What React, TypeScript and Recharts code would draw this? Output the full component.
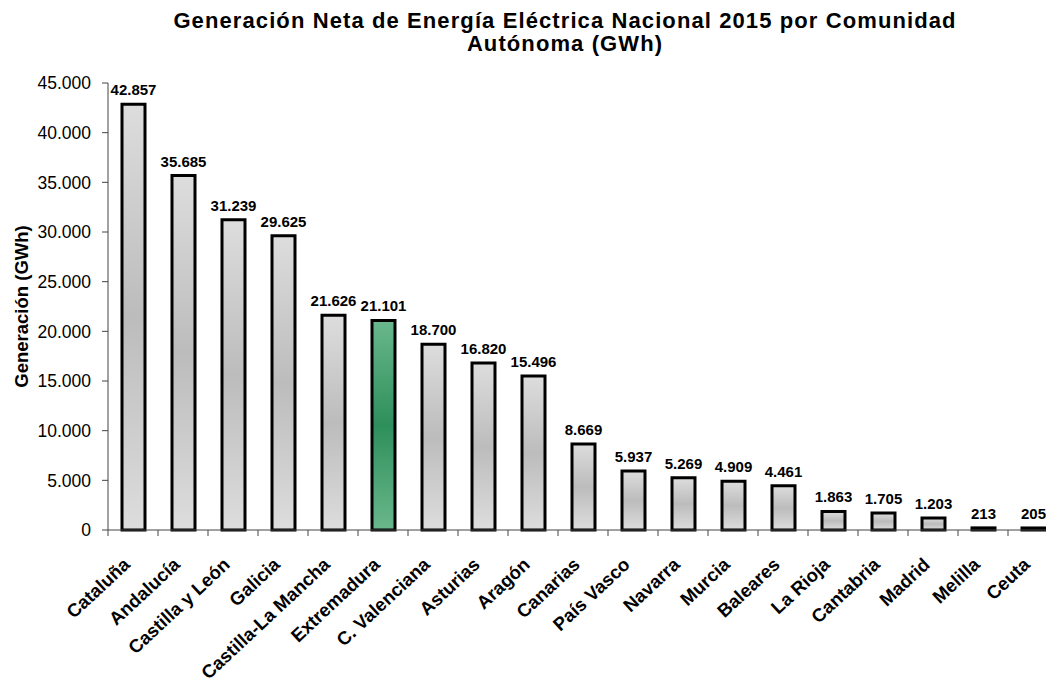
import { Bar, BarChart, Cell, LabelList, XAxis, YAxis } from "recharts";

const categories = [
  "Cataluña",
  "Andalucía",
  "Castilla y León",
  "Galicia",
  "Castilla-La Mancha",
  "Extremadura",
  "C. Valenciana",
  "Asturias",
  "Aragón",
  "Canarias",
  "País Vasco",
  "Navarra",
  "Murcia",
  "Baleares",
  "La Rioja",
  "Cantabria",
  "Madrid",
  "Melilla",
  "Ceuta",
];

const generation = [
  42857, 35685, 31239, 29625, 21626, 21101, 18700, 16820, 15496, 8669, 5937,
  5269, 4909, 4461, 1863, 1705, 1203, 213, 205,
];

const yTicks = [0, 5000, 10000, 15000, 20000, 25000, 30000, 35000, 40000, 45000];

const highlighted = "Extremadura";

const FONT = '"Liberation Sans", Arial, sans-serif';

// Spanish thousands separator (also for 4-digit numbers)
const fmt = (v: number) => String(v).replace(/\B(?=(\d{3})+(?!\d))/g, ".");

const data = categories.map((region, i) => ({ region, gwh: generation[i] }));

const CategoryTick = (props: any) => {
  const { x, y, payload } = props;
  const ax = x - 2;
  const ay = y + 36;
  return (
    <g>
      {/* Excel style: tick marks between categories */}
      <line x1={x - 25} x2={x - 25} y1={y} y2={y + 6} stroke="#444" />
      <text
        x={ax}
        y={ay}
        textAnchor="end"
        transform={`rotate(-43 ${ax} ${ay})`}
        fontFamily={FONT}
        fontWeight="bold"
        fontSize={18.5}
        fill="#000"
      >
        {payload.value}
      </text>
    </g>
  );
};

const AxisTitle = (props: any) => {
  const { viewBox } = props;
  const cx = 13;
  const cy = viewBox.y + viewBox.height / 2;
  return (
    <text
      x={cx}
      y={cy}
      textAnchor="middle"
      dominantBaseline="central"
      transform={`rotate(-90 ${cx} ${cy})`}
      fontFamily={FONT}
      fontWeight="bold"
      fontSize={18.5}
      fill="#000"
    >
      Generación (GWh)
    </text>
  );
};

const ValueLabel = (props: any) => {
  const { x, y, width, value } = props;
  return (
    <text
      x={x + width / 2}
      y={y - 9}
      textAnchor="middle"
      fontFamily={FONT}
      fontWeight="bold"
      fontSize={15}
      fill="#000"
    >
      {fmt(value)}
    </text>
  );
};

export default function App() {
  return (
    <div
      style={{
        position: "relative",
        width: 1046,
        height: 683,
        overflow: "hidden",
        fontFamily: FONT,
      }}
    >
      <style>{"html,body{overflow:hidden;margin:0}"}</style>
      <div
        style={{
          position: "absolute",
          left: 565,
          top: 9,
          transform: "translateX(-50%)",
          whiteSpace: "nowrap",
          textAlign: "center",
          fontWeight: "bold",
          fontSize: 22,
          letterSpacing: 1.1,
          lineHeight: "23px",
        }}
      >
        Generación Neta de Energía Eléctrica Nacional 2015 por Comunidad
        <br />
        Autónoma (GWh)
      </div>
      <div style={{ position: "absolute", left: 8, top: 8 }}>
        <BarChart
          width={1060}
          height={675}
          data={data}
          margin={{ top: 75, right: 10, left: 0, bottom: 33 }}
          barSize={23}
        >
          <defs>
            <linearGradient id="grayFill" x1="0" y1="0" x2="0" y2="1">
              <stop offset="0%" stopColor="#dddddd" />
              <stop offset="50%" stopColor="#bcbcbc" />
              <stop offset="100%" stopColor="#dddddd" />
            </linearGradient>
            <linearGradient id="greenFill" x1="0" y1="0" x2="0" y2="1">
              <stop offset="0%" stopColor="#6ab78c" />
              <stop offset="50%" stopColor="#2e8f5c" />
              <stop offset="100%" stopColor="#6ab78c" />
            </linearGradient>
          </defs>
          <XAxis
            dataKey="region"
            interval={0}
            height={120}
            tickLine={false}
            tickSize={0}
            tickMargin={0}
            axisLine={{ stroke: "#444" }}
            tick={(p: any) => <CategoryTick {...p} />}
          />
          <YAxis
            width={100}
            domain={[0, 45000]}
            ticks={yTicks}
            interval={0}
            tickFormatter={fmt}
            tickSize={6}
            tickMargin={11}
            axisLine={{ stroke: "#444" }}
            tickLine={{ stroke: "#444" }}
            tick={{ fill: "#000", fontSize: 17.5, fontFamily: FONT }}
            label={<AxisTitle />}
          />
          <Bar
            dataKey="gwh"
            stroke="#000"
            strokeWidth={3}
            isAnimationActive={false}
          >
            {data.map((d) => (
              <Cell
                key={d.region}
                fill={d.region === highlighted ? "url(#greenFill)" : "url(#grayFill)"}
              />
            ))}
            <LabelList dataKey="gwh" content={<ValueLabel />} />
          </Bar>
        </BarChart>
      </div>
    </div>
  );
}
